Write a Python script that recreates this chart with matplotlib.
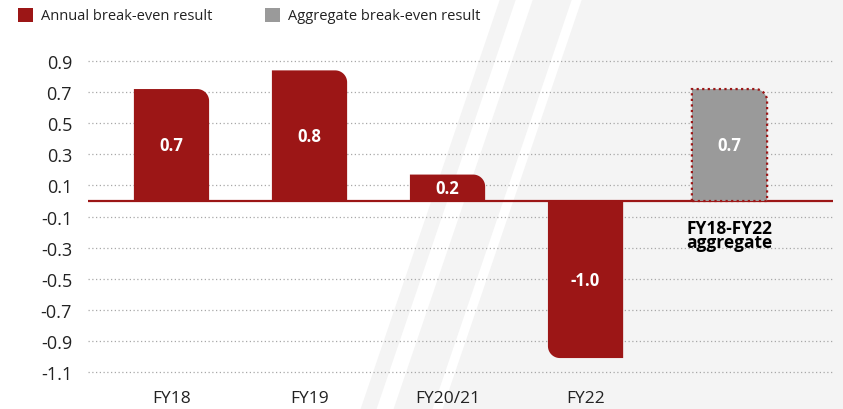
import numpy as np
import matplotlib
matplotlib.use("Agg")
import matplotlib.pyplot as plt
from matplotlib.patches import Polygon, Rectangle

categories = ["FY18", "FY19", "FY20/21", "FY22"]
annual_values = [0.72, 0.84, 0.17, -1.01]
annual_labels = ["0.7", "0.8", "0.2", "-1.0"]
aggregate_category = ["FY18-FY22", "aggregate"]
aggregate_value = 0.72
aggregate_label = "0.7"
y_ticks = [0.9, 0.7, 0.5, 0.3, 0.1, -0.1, -0.3, -0.5, -0.7, -0.9, -1.1]
legend_labels = ["Annual break-even result", "Aggregate break-even result"]

RED = "#9c1616"
GRAY = "#9a9a9a"
TXT = "#222222"

plt.rcParams['font.family'] = ['Open Sans', 'DejaVu Sans']

W, H = 843, 410
fig = plt.figure(figsize=(W / 100, H / 100), dpi=100)
fig.patch.set_facecolor('white')


def img_pts(pts):
    return [(x / W, 1 - y / H) for x, y in pts]


# decorative diagonal background bands
slope = 0.34
for x0, x1 in [(500, 516), (533, 572), (582, 1100)]:
    pts = [(x0, 0), (x1, 0), (x1 - slope * H, H), (x0 - slope * H, H)]
    fig.add_artist(Polygon(img_pts(pts), closed=True, transform=fig.transFigure,
                           facecolor="#f4f4f4", edgecolor='none', zorder=0))

# axes layout
px_left, px_right = 88, 833
zero_px, ppu = 202, 155.5
ylim = (-1.2, 1.05)
xlim = (-0.605, 4.793)
top_px = zero_px - ylim[1] * ppu
bot_px = zero_px - ylim[0] * ppu
ax = fig.add_axes([px_left / W, 1 - bot_px / H, (px_right - px_left) / W, (bot_px - top_px) / H])
ax.set_facecolor('none')
ax.set_xlim(*xlim)
ax.set_ylim(*ylim)

sx = (px_right - px_left) / (xlim[1] - xlim[0])
sy = ppu
bar_w = 0.545
r_px = 12


def rounded_bar(xc, value, **kw):
    rx = r_px / sx
    ry = min(r_px / sy, abs(value))
    x0, x1 = xc - bar_w / 2, xc + bar_w / 2
    t = np.linspace(0, np.pi / 2, 24)
    if value >= 0:
        arc = np.column_stack([x1 - rx + rx * np.sin(t), value - ry + ry * np.cos(t)])
        pts = [(x0, 0), (x0, value)] + [tuple(p) for p in arc] + [(x1, 0)]
    else:
        arc = np.column_stack([x0 + rx - rx * np.cos(t), value + ry - ry * np.sin(t)])
        pts = [(x0, 0)] + [tuple(p) for p in arc] + [(x1, value), (x1, 0)]
    ax.add_patch(Polygon(pts, closed=True, **kw))


x = np.arange(len(categories))
x_agg = 4.043

for xi, v, lab in zip(x, annual_values, annual_labels):
    rounded_bar(xi, v, facecolor=RED, edgecolor='none', zorder=3)
    ax.text(xi, v / 2, lab, ha='center', va='center', color='white',
            fontsize=12, fontweight='bold', zorder=4)

rounded_bar(x_agg, aggregate_value, facecolor=GRAY, edgecolor=RED,
            linestyle=(0, (1, 1.5)), linewidth=1.6, zorder=3)
ax.text(x_agg, aggregate_value / 2, aggregate_label, ha='center', va='center',
        color='white', fontsize=12, fontweight='bold', zorder=4)

ax.text(x_agg, -0.218, "\n".join(aggregate_category), ha='center', va='center',
        multialignment='center', linespacing=0.72,
        color='black', fontsize=12.5, fontweight='bold')

ax.axhline(0, color=RED, lw=1.6, zorder=2.5)

ax.set_yticks(y_ticks)
ax.set_yticklabels([f"{v:.1f}" for v in y_ticks])
ax.yaxis.grid(True, color='#a8a8a8', linestyle=(0, (1, 2)), linewidth=0.9, zorder=1)
ax.set_axisbelow(True)
ax.set_xticks(x)
ax.set_xticklabels(categories)
ax.tick_params(axis='y', length=0, pad=11.5, labelsize=13, labelcolor=TXT)
ax.tick_params(axis='x', length=0, pad=2, labelsize=12.5, labelcolor=TXT)
for s in ax.spines.values():
    s.set_visible(False)

# legend
leg_items = [(18, RED, legend_labels[0]), (265, GRAY, legend_labels[1])]
for lx, col, lab in leg_items:
    fig.add_artist(Rectangle((lx / W, 1 - 23 / H), 15 / W, 14 / H,
                             transform=fig.transFigure, facecolor=col, edgecolor='none'))
    fig.text((lx + 23) / W, 1 - 16 / H, lab, ha='left', va='center',
             fontsize=10.5, color=TXT)

fig.savefig("out.png", dpi=100)
